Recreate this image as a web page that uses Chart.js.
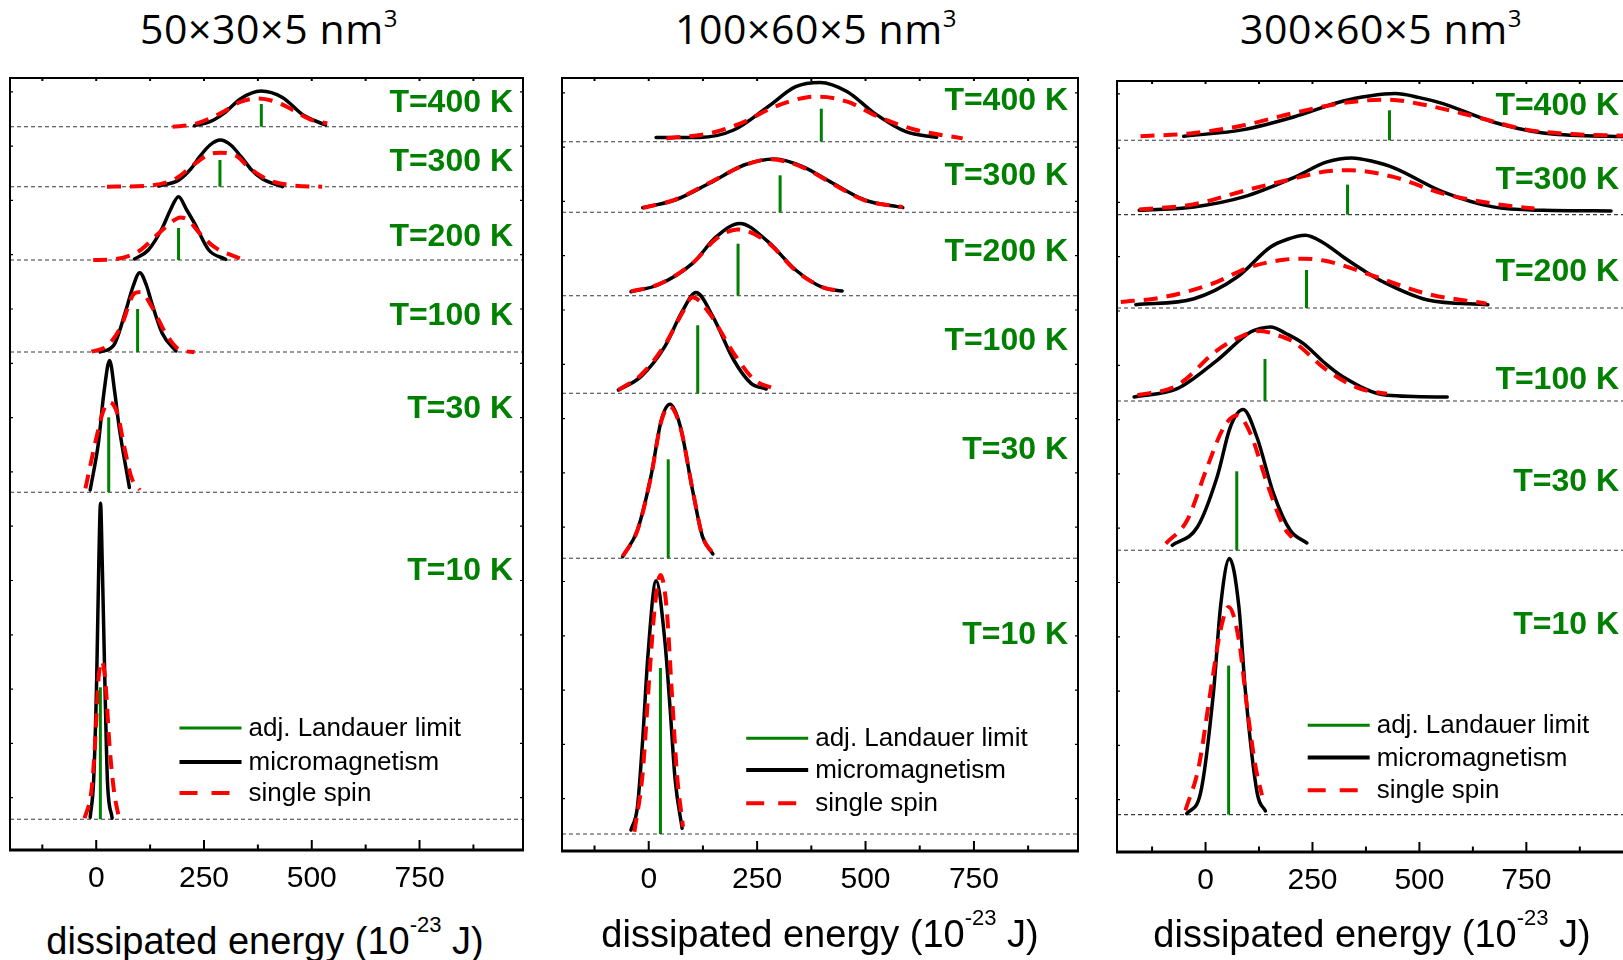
<!DOCTYPE html>
<html>
<head>
<meta charset="utf-8">
<script src="https://cdn.jsdelivr.net/npm/chart.js@4.4.1/dist/chart.umd.min.js"></script>
<style>
html, body { margin: 0; padding: 0; background: #fff; width: 1623px; height: 960px; overflow: hidden; }
canvas.panel { position: absolute; }
.title { position: absolute; font-family: 'Open Sans', sans-serif; font-size: 41px; line-height: 40px; letter-spacing: 0.6px; white-space: nowrap; transform: translateX(-50%); color: #000; }
.title span { font-size: 24px; position: relative; top: -17px; }
.xlab { position: absolute; font-family: 'Liberation Sans', Arial, sans-serif; font-size: 38px; line-height: 38px; white-space: nowrap; transform: translateX(-50%); color: #000; }
.xlab span { font-size: 22px; position: relative; top: -22px; }
</style>
</head>
<body>
<canvas id="p50" class="panel" width="533" height="840" style="left:0px;top:68px"></canvas>
<canvas id="p100" class="panel" width="536" height="841" style="left:552px;top:68px"></canvas>
<canvas id="p300" class="panel" width="532" height="839" style="left:1107px;top:71px"></canvas>

<div class="title" style="left:269px;top:8px">50×30×5 nm<span>3</span></div>
<div class="title" style="left:816px;top:8px">100×60×5 nm<span>3</span></div>
<div class="title" style="left:1381px;top:8px">300×60×5 nm<span>3</span></div>

<div class="xlab" style="left:265px;top:922px">dissipated energy (10<span>-23</span> J)</div>
<div class="xlab" style="left:820px;top:915px">dissipated energy (10<span>-23</span> J)</div>
<div class="xlab" style="left:1372px;top:915px">dissipated energy (10<span>-23</span> J)</div>

<script>
const temps = ['T=400 K', 'T=300 K', 'T=200 K', 'T=100 K', 'T=30 K', 'T=10 K'];
const xTicks = [-125, 0, 125, 250, 375, 500, 625, 750, 875];
const legendNames = ['adj. Landauer limit', 'micromagnetism', 'single spin'];

// ---- 50x30x5 nm^3 ----  curves are [energy, height above row baseline]
const rowOffset50 = [723.3, 663.3, 590, 498, 357.7, 30.7];
const landauer50 = [383, 287, 191, 96, 29, 9.6];
const landauerH50 = [22.7, 26.7, 32, 43, 75, 132];

const mm50_400 = [[228,1],[264,5],[296,13.3],[336,28.3],[382,35.7],[432,29.3],[480,11.7],[532,1.7]];
const mm50_300 = [[145,0.7],[192,6.7],[220,18],[240,30],[264,41.7],[288,46.7],[312,41.7],[336,30],[360,17],[384,8.3],[432,0]];
const mm50_200 = [[89,1],[121,10],[153,31.7],[172,50],[191,63.3],[210,50],[228,36.7],[261,10],[300,0.7]];
const mm50_100 = [[9,0],[41,7],[69,42],[85,65],[101,79.3],[117,66],[129,48.7],[153,18.7],[185,1]];
const mm50_30 = [[-14,2.3],[5,49],[18,100],[31,131.7],[43,100],[53,65.7],[77,4.7]];
const mm50_10 = [[-14,2],[-6,39],[1,139],[6,256],[10,316],[14,256],[20,139],[26,39],[37,1]];

const ss50_400 = [[177,0],[225,2.3],[288,13.3],[336,25],[376,28.3],[416,25],[456,16.7],[496,7.3],[536,3.3]];
const ss50_300 = [[25,0],[121,1],[185,8.3],[225,21.7],[264,32.7],[288,34],[328,30],[352,20],[400,6.7],[456,1.3],[524,0]];
const ss50_200 = [[-7,0],[41,0.7],[97,8.3],[145,26.7],[175,38],[195,42.5],[213,40],[240,26.7],[273,13.3],[336,1]];
const ss50_100 = [[-11,0.3],[25,6],[57,25],[89,58.7],[103,60],[129,45.3],[161,18.7],[192,2.7],[228,0]];
const ss50_30 = [[-25,4],[1,55.7],[17,82],[31,90],[49,79],[65,45.7],[81,15.7],[101,2.3]];
const ss50_10 = [[-27,1],[-11,29],[-3,73],[5,139],[13,158],[21,139],[31,73],[41,29],[53,1]];

// ---- 100x60x5 nm^3 ----
const rowOffset100 = [709.3, 638.7, 555.3, 457.7, 292.7, 17];
const landauer100 = [398, 303, 206, 113, 45, 27];
const landauerH100 = [33, 37, 52, 68, 99, 166];

const mm100_400 = [[17,4.3],[117,4.3],[196,11.7],[275,35],[339,55],[395,59.3],[458,50],[521,28.3],[593,10],[664,4.3]];
const mm100_300 = [[-14,4.7],[61,12.3],[140,29],[220,47.3],[291,53.3],[355,45.7],[418,30.7],[498,12.3],[586,4.7]];
const mm100_200 = [[-41,4],[21,10.7],[101,32.3],[156,59],[210,72.3],[275,54],[339,25.7],[402,8],[446,4.7]];
const mm100_100 = [[-70,3.3],[-18,16.7],[37,46.7],[77,81.7],[109,100.7],[148,76.7],[196,33.3],[236,10],[271,4.3]];
const mm100_30 = [[-60,1.7],[-26,28.3],[5,81.7],[29,138],[49,154],[73,131.7],[101,68.3],[124,21.7],[148,4.3]];
const mm100_10 = [[-41,4],[-26,27.3],[-14,94],[-2,177.3],[17,253.3],[37,194],[49,127.3],[61,54],[77,5.7]];

const ss100_400 = [[41,3.3],[140,8.3],[212,18.3],[291,35],[363,44.3],[395,45],[458,40],[529,25],[617,11.7],[724,3.3]];
const ss100_300 = [[-14,4.3],[61,12.7],[140,29.5],[220,47],[280,53],[355,45],[418,30],[498,12],[586,5]];
const ss100_200 = [[-41,4.3],[21,11],[101,32.5],[156,57],[205,66.3],[275,53],[339,25],[402,8.3],[446,4.7]];
const ss100_100 = [[-70,3.3],[-18,18.3],[37,48.3],[77,80],[101,96],[140,80],[196,40],[244,13.3],[287,5]];
const ss100_30 = [[-60,2],[-26,28],[5,81],[29,137],[48,152],[73,131],[101,69],[124,22],[148,5]];
const ss100_10 = [[-33,2.3],[-14,60.7],[2,160.7],[14,227],[27,259],[41,227],[53,144],[65,60.7],[79,7.3]];

// ---- 300x60x5 nm^3 ----
const rowOffset300 = [711.7, 637.4, 544, 451, 301.7, 37.4];
const landauer300 = [430, 332, 236, 139, 73, 54];
const landauerH300 = [30, 30, 38, 42, 79, 149];

const mm300_400 = [[-51,4],[89,10.7],[206,23.3],[322,39.3],[383,44.3],[443,46.7],[500,42.7],[555,36.7],[672,18.3],[789,7.3],[944,4],[990,3.7]];
const mm300_300 = [[-155,4.3],[-27,7.7],[89,17.7],[206,37],[284,52.7],[342,56.7],[390,53.3],[439,47],[555,22.7],[672,7.7],[789,4.3],[948,3.7]];
const mm300_200 = [[-163,3.3],[-27,9.3],[74,31],[152,61],[190,68.5],[233,72.7],[276,65],[322,51],[369,37.7],[416,26],[517,8.3],[660,3.3]];
const mm300_100 = [[-167,4],[-66,12.3],[27,40.7],[105,69],[128,72.5],[152,74],[190,67],[229,57.3],[276,39],[322,24],[424,5.7],[565,4]];
const mm300_30 = [[-78,5],[-19,23.3],[27,73.3],[58,123.3],[88,140.7],[120,113.3],[159,56.7],[198,20],[237,7.3]];
const mm300_10 = [[-44,1],[-12,21],[19,124.3],[35,207.7],[56,256],[78,207.7],[93,124.3],[121,21],[140,3.7]];

const ss300_400 = [[-152,4],[-27,7.3],[89,15],[206,27.3],[322,37.3],[424,40.7],[517,35],[633,23.3],[750,10.7],[866,6],[990,4.5]];
const ss300_300 = [[-155,5],[-27,10.3],[89,23.7],[206,36],[284,43.3],[338,44.3],[439,37.7],[555,21],[672,11],[769,6]];
const ss300_200 = [[-198,6],[-105,10.3],[12,23.7],[105,41],[183,48.3],[229,49.3],[276,47.5],[307,44.3],[400,31],[517,14.3],[657,4.3]];
const ss300_100 = [[-159,5.7],[-66,15.7],[27,50.7],[89,65.7],[128,70],[167,66],[206,59],[284,30.7],[361,12.3],[424,7.3]];
const ss300_30 = [[-93,6.7],[-43,30],[4,83.3],[43,123.3],[74,135],[105,116.7],[144,66.7],[183,23.3],[202,12.7]];
const ss300_10 = [[-47,4.3],[-16,47.7],[12,124.3],[35,184.3],[54,207.7],[78,174.3],[97,107.7],[117,47.7],[132,19.3]];

const GREEN = '#008000';
const FONT = "'Liberation Sans', Arial, sans-serif";

function shifted(curve, base) {
    return curve.map(p => ({x: p[0], y: base + p[1]}));
}

// labels, frame, inward ticks and the legend box
const panelDecor = {
    id: 'decor',
    beforeDatasetsDraw(chart, args, o) {
        const {ctx, chartArea: a, scales: {y}} = chart;
        ctx.save();
        ctx.fillStyle = GREEN;
        ctx.font = 'bold 32px ' + FONT;
        ctx.textAlign = 'right';
        ctx.textBaseline = 'middle';
        temps.forEach((t, i) => ctx.fillText(t, a.right - 10, y.getPixelForValue(o.labelY[i])));
        ctx.restore();
    },
    afterDatasetsDraw(chart, args, o) {
        const {ctx, chartArea: a, scales: {x, y}} = chart;
        ctx.save();
        ctx.strokeStyle = '#000';
        ctx.lineCap = 'butt';
        // frame
        ctx.lineWidth = 2;
        ctx.beginPath();
        ctx.moveTo(a.left, a.bottom); ctx.lineTo(a.left, a.top);
        ctx.lineTo(a.right, a.top); ctx.lineTo(a.right, a.bottom);
        ctx.stroke();
        ctx.lineWidth = 3;
        ctx.beginPath();
        ctx.moveTo(a.left - 1, a.bottom); ctx.lineTo(a.right + 1, a.bottom);
        ctx.stroke();
        // x ticks, pointing inward
        ctx.lineWidth = 2;
        xTicks.forEach(v => {
            const px = x.getPixelForValue(v);
            const len = v % 250 === 0 ? 10 : 5.5;
            ctx.beginPath();
            ctx.moveTo(px, a.bottom); ctx.lineTo(px, a.bottom - len);
            ctx.moveTo(px, a.top); ctx.lineTo(px, a.top + 3);
            ctx.stroke();
        });
        // small y ticks on both sides
        ctx.lineWidth = 1.2;
        for (let v = 52.3; v < y.max; v += 54.3) {
            const py = y.getPixelForValue(v);
            ctx.beginPath();
            ctx.moveTo(a.left, py); ctx.lineTo(a.left + 3, py);
            ctx.moveTo(a.right, py); ctx.lineTo(a.right - 3, py);
            ctx.stroke();
        }
        // legend
        const lx = a.left + o.legendX;
        const styles = [
            {c: GREEN, w: 3, d: []},
            {c: '#000', w: 4, d: []},
            {c: '#ff0000', w: 4, d: [18, 14]}
        ];
        ctx.font = '26px ' + FONT;
        ctx.textAlign = 'left';
        ctx.textBaseline = 'middle';
        legendNames.forEach((name, i) => {
            const ly = a.bottom - o.legendRows[i];
            ctx.strokeStyle = styles[i].c;
            ctx.lineWidth = styles[i].w;
            ctx.setLineDash(styles[i].d);
            ctx.beginPath();
            ctx.moveTo(lx, ly); ctx.lineTo(lx + 62, ly);
            ctx.stroke();
            ctx.setLineDash([]);
            ctx.fillStyle = '#000';
            ctx.fillText(name, lx + 69, ly + 1);
        });
        ctx.restore();
    }
};

function drawPanel(id, xMin, xMax, yMax, offsets, micro, spin, lanX, lanH, labelY, legendX, legendRows) {
    const datasets = [];
    offsets.forEach((base, i) => {
        datasets.push({
            data: [{x: lanX[i], y: base}, {x: lanX[i], y: base + lanH[i]}],
            borderColor: GREEN, borderWidth: 3, order: 0
        });
        datasets.push({
            data: shifted(spin[i], base),
            borderColor: '#ff0000', borderWidth: 4, borderDash: [14, 9],
            cubicInterpolationMode: 'monotone', order: 1
        });
        datasets.push({
            data: shifted(micro[i], base),
            borderColor: '#000', borderWidth: 3.5, borderCapStyle: 'round',
            cubicInterpolationMode: 'monotone', order: 2
        });
        datasets.push({
            data: [{x: xMin, y: base}, {x: xMax, y: base}],
            borderColor: '#3a3a3a', borderWidth: 1.1, borderDash: [4, 3], order: 3
        });
    });

    new Chart(document.getElementById(id), {
        type: 'line',
        data: {datasets: datasets},
        options: {
            responsive: false,
            animation: false,
            events: [],
            devicePixelRatio: 1,
            layout: {padding: {left: 10, right: 10, top: 10, bottom: 0}},
            elements: {point: {radius: 0}, line: {fill: false}},
            scales: {
                x: {
                    type: 'linear', min: xMin, max: xMax,
                    afterBuildTicks: s => { s.ticks = xTicks.map(v => ({value: v})); },
                    grid: {display: false, drawTicks: false},
                    border: {display: false},
                    ticks: {
                        autoSkip: false, maxRotation: 0, padding: 11, color: '#000',
                        font: {family: FONT, size: 30},
                        callback: v => (v % 250 === 0 && v >= 0) ? String(v) : ''
                    }
                },
                y: {type: 'linear', display: false, min: 0, max: yMax}
            },
            plugins: {
                legend: {display: false},
                tooltip: {enabled: false},
                decor: {labelY: labelY, legendX: legendX, legendRows: legendRows}
            }
        },
        plugins: [panelDecor]
    });
}

drawPanel('p50', -200, 990, 772, rowOffset50,
    [mm50_400, mm50_300, mm50_200, mm50_100, mm50_30, mm50_10],
    [ss50_400, ss50_300, ss50_200, ss50_100, ss50_30, ss50_10],
    landauer50, landauerH50,
    [747, 687.5, 612.5, 534, 441, 279], 169.5, [122, 88, 57]);

drawPanel('p100', -200, 990, 773, rowOffset100,
    [mm100_400, mm100_300, mm100_200, mm100_100, mm100_30, mm100_10],
    [ss100_400, ss100_300, ss100_200, ss100_100, ss100_30, ss100_10],
    landauer100, landauerH100,
    [750, 675, 598.5, 510, 401, 216], 184.2, [112.7, 81, 47.7]);

drawPanel('p300', -207, 990, 771, rowOffset300,
    [mm300_400, mm300_300, mm300_200, mm300_100, mm300_30, mm300_10],
    [ss300_400, ss300_300, ss300_200, ss300_100, ss300_30, ss300_10],
    landauer300, landauerH300,
    [746, 672, 580, 472, 370, 227], 190.7, [126.7, 94.4, 61.7]);
</script>
</body>
</html>
